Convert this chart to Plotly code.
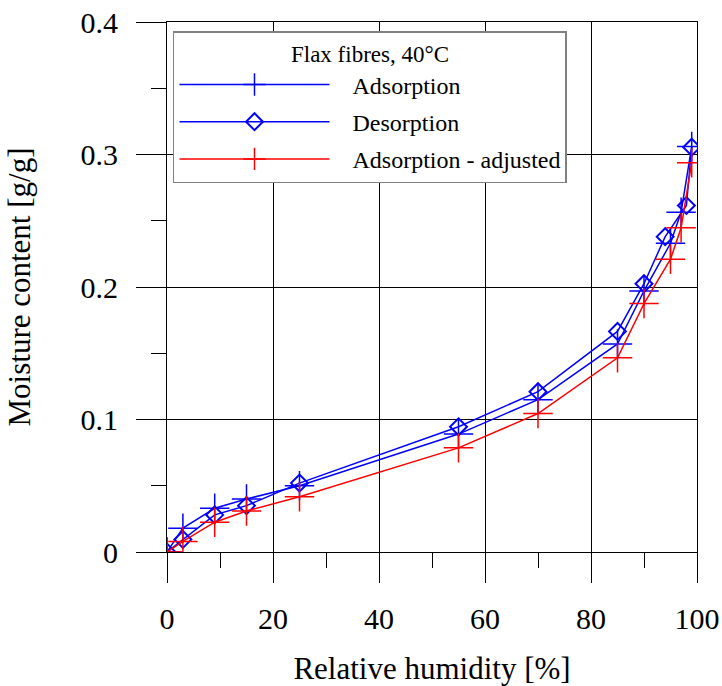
import plotly.graph_objects as go

rh_ads = [0, 3, 9, 15, 25, 55, 70, 85, 90, 95, 97, 99]
mc_ads = [0, 0.018, 0.033, 0.040, 0.050, 0.089, 0.115, 0.157, 0.197, 0.233, 0.2565, 0.306]

rh_des = [0, 3, 9, 15, 25, 55, 70, 85, 90, 94, 98, 99]
mc_des = [0, 0.0095, 0.028, 0.035, 0.052, 0.0945, 0.121, 0.1665, 0.2025, 0.238, 0.2615, 0.3055]

rh_adj = [0, 3, 9, 15, 25, 55, 70, 85, 90, 95, 97, 99]
mc_adj = [0, 0.008, 0.0225, 0.031, 0.0417, 0.0786, 0.1045, 0.1466, 0.1875, 0.221, 0.2447, 0.2937]

series_names = ["Adsorption", "Desorption", "Adsorption - adjusted"]

BLUE = "#0000FF"
RED = "#FF0000"
FONT = "Liberation Serif, Times New Roman, serif"
PAD = "\u00a0\u00a0\u00a0"

fig = go.Figure()
fig.add_trace(go.Scatter(
    x=rh_ads, y=mc_ads, mode="lines+markers", name=PAD + series_names[0], legendgroup="a",
    line=dict(color=BLUE, width=1.5),
    marker=dict(symbol="cross-thin", size=21, line=dict(color=BLUE, width=1.5), color=BLUE),
))
fig.add_trace(go.Scatter(
    x=rh_des, y=mc_des, mode="lines+markers", name=PAD + series_names[1], legendgroup="b",
    line=dict(color=BLUE, width=1.5),
    marker=dict(symbol="diamond-open", size=13, line=dict(color=BLUE, width=2), color=BLUE),
))
fig.add_trace(go.Scatter(
    x=rh_adj, y=mc_adj, mode="lines+markers", name=PAD + series_names[2], legendgroup="c",
    line=dict(color=RED, width=1.5),
    marker=dict(symbol="cross-thin", size=21, line=dict(color=RED, width=1.5), color=RED),
))

axis_common = dict(
    showgrid=True, gridcolor="black", gridwidth=1,
    showline=True, linecolor="black", linewidth=1, mirror=True,
    ticks="outside", ticklen=30, tickcolor="black", tickwidth=1,
    tickfont=dict(family=FONT, size=30, color="black"),
    zeroline=False, automargin=False,
)

fig.update_xaxes(
    range=[0, 100], dtick=20, tick0=0, ticklabelstandoff=10,
    minor=dict(dtick=10, ticklen=15, ticks="outside", tickcolor="black", tickwidth=1, showgrid=False),
    title=dict(text="Relative humidity [%]", font=dict(family=FONT, size=31, color="black"), standoff=25),
    **axis_common,
)
fig.update_yaxes(
    range=[0, 0.4], dtick=0.1, tick0=0, ticklabelstandoff=12,
    minor=dict(dtick=0.05, ticklen=15, ticks="outside", tickcolor="black", tickwidth=1, showgrid=False),
    title=dict(text="Moisture content [g/g]", font=dict(family=FONT, size=31, color="black"), standoff=40),
    **axis_common,
)

fig.update_layout(
    width=722, height=686,
    margin=dict(l=167, r=25, t=22, b=134),
    plot_bgcolor="white", paper_bgcolor="white",
    font=dict(family=FONT, color="black"),
    legend=dict(
        x=0.0113, y=0.983, xanchor="left", yanchor="top",
        bgcolor="white", bordercolor="#808080", borderwidth=1.5,
        font=dict(family=FONT, size=24, color="black"),
        title=dict(text="Flax fibres, 40°C", side="top center", font=dict(family=FONT, size=23, color="black")),
        itemwidth=150, tracegroupgap=3,
    ),
)

fig.write_html("out.html")
